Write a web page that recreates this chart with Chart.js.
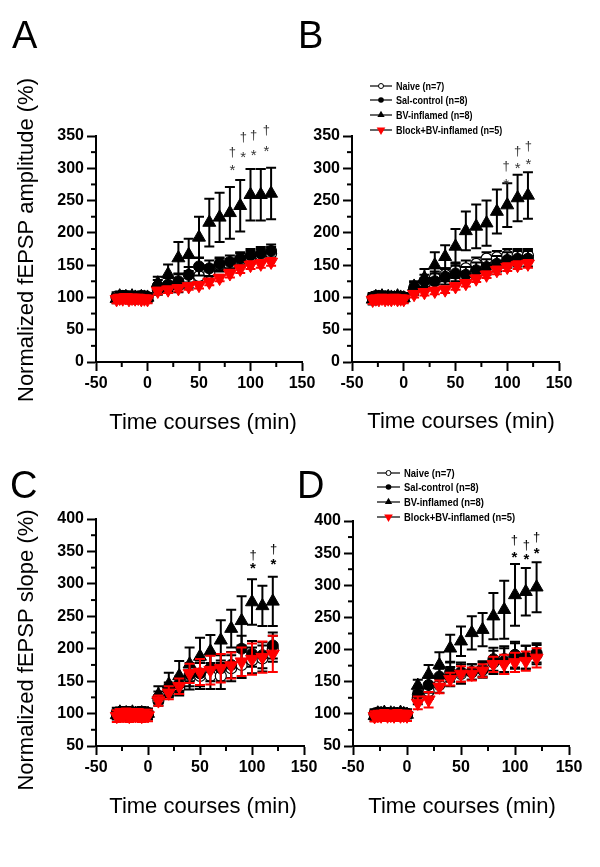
<!DOCTYPE html>
<html><head><meta charset="utf-8">
<script src="https://cdn.jsdelivr.net/npm/chart.js@4.4.0/dist/chart.umd.min.js"></script>
<style>
html,body{margin:0;padding:0;background:#fff;}
#wrap{position:relative;width:600px;height:867px;overflow:hidden;}
canvas{position:absolute;left:0;top:0;}
</style></head><body>
<div id="wrap">
<canvas id="cA" width="600" height="867"></canvas>
<canvas id="cB" width="600" height="867"></canvas>
<canvas id="cC" width="600" height="867"></canvas>
<canvas id="cD" width="600" height="867"></canvas>
</div>
<script>
// ---------- categories / labels ----------
const times = [-30,-27,-24,-21,-18,-15,-12,-9,-6,-3,0,10,20,30,40,50,60,70,80,90,100,110,120];
const seriesNames = ['Naive (n=7)','Sal-control (n=8)','BV-inflamed (n=8)','Block+BV-inflamed (n=5)'];
const xTickLabels = [-50,0,50,100,150];
const yTickLabelsAmp = [0,50,100,150,200,250,300,350];
const yTickLabelsSlope = [50,100,150,200,250,300,350,400];
const xTitle = 'Time courses (min)';
const yTitleAmp = 'Normalized fEPSP amplitude (%)';
const yTitleSlope = 'Normalized fEPSP slope (%)';

// ---------- Panel A: amplitude ----------
const naiveA    = [101,99,102,100,98,101,100,99,102,100,99, 112,115,118,125,133,138,150,150,158,162,165,168];
const naiveAErr = [7,6,7,6,7,6,7,6,7,6,7, 8,8,10,10,12,12,10,10,10,10,10,10];
const salA      = [99,101,100,102,99,100,98,101,100,99,101, 118,120,125,135,148,145,152,155,160,165,168,172];
const salAErr   = [6,7,6,7,6,7,6,7,6,7,6, 9,10,12,12,14,12,10,10,10,10,10,10];
const bvA       = [98,102,100,101,99,102,100,98,101,100,100, 122,136,161,166,193,216,224,231,242,259,259,261];
const bvAErr    = [7,7,6,7,7,6,7,7,6,7,6, 10,15,25,25,32,37,38,40,40,40,40,40];
const blockA    = [97,99,98,100,97,99,98,99,97,98,97, 110,112,114,117,119,124,130,137,144,150,152,155];
const blockAErr = [6,5,6,5,6,5,6,5,6,5,6, 5,5,5,5,5,5,5,6,6,6,6,6];
const sigXA     = [82.5,93,103,115.5];
const starYA    = [300,320,323,330];
const daggerYA  = [325,348,351,359];

// ---------- Panel B: amplitude ----------
const naiveB    = [100,102,99,101,100,98,101,100,99,101,100, 112,120,130,135,142,145,152,160,162,165,165,165];
const naiveBErr = [7,6,7,6,7,6,7,6,7,6,7, 8,10,10,10,12,12,10,10,10,10,10,10];
const salB      = [99,100,102,99,101,100,99,101,100,98,100, 115,125,125,132,137,135,142,147,152,158,160,160];
const salBErr   = [6,7,6,7,6,7,6,7,6,7,6, 8,10,12,12,12,12,12,12,12,12,12,12];
const bvB       = [97,101,100,102,99,101,100,99,102,100,99, 117,130,150,163,179,203,210,215,233,243,254,258];
const bvBErr    = [8,7,7,7,7,6,7,7,6,7,6, 8,14,20,18,27,30,34,35,34,34,36,36];
const blockB    = [96,98,97,99,97,98,97,99,97,98,97, 105,108,110,112,117,122,129,135,142,147,150,152];
const blockBErr = [6,5,6,5,6,5,6,5,6,5,6, 5,5,5,5,5,5,5,5,6,6,6,6];
const sigXB     = [99,110,120.5];
const starYB    = [279,304,310];
const daggerYB  = [302,326,333];

// ---------- Panel C: slope ----------
const naiveC    = [101,99,102,100,98,101,100,99,102,100,99, 120,135,140,155,158,158,158,170,175,182,185,200];
const naiveCErr = [8,7,8,7,8,7,8,7,8,7,8, 8,10,12,18,20,20,20,20,20,20,20,20];
const salC      = [99,101,100,102,99,100,98,101,100,99,101, 125,138,145,160,162,170,170,175,200,192,190,205];
const salCErr   = [7,8,7,8,7,8,7,8,7,8,7, 9,10,12,18,20,20,20,20,20,20,20,20];
const bvC       = [98,102,100,101,99,102,100,98,101,100,100, 129,145,158,176,188,196,213,231,243,272,266,273];
const bvCErr    = [7,7,6,7,7,6,7,7,6,7,6, 13,18,23,26,29,25,31,29,38,35,31,38];
const blockC    = [96,99,97,100,96,99,97,99,96,98,97, 120,132,142,162,164,167,170,174,180,184,187,192];
const blockCErr = [9,8,9,8,9,8,9,8,9,8,9, 8,10,12,15,20,22,22,20,22,24,24,28];
const sigXC     = [101,120.7];
const starYC    = [327,333];
const daggerYC  = [343,353];

// ---------- Panel D: slope ----------
const naiveD    = [100,102,99,101,100,98,101,100,99,101,100, 125,135,145,158,162,165,170,180,185,190,188,192];
const naiveDErr = [7,6,7,6,7,6,7,6,7,6,7, 10,12,12,15,15,12,12,18,20,20,18,15];
const salD      = [99,100,102,99,101,100,99,101,100,98,100, 130,145,158,165,165,165,168,185,182,192,188,195];
const salDErr   = [6,7,6,7,6,7,6,7,6,7,6, 10,12,12,15,15,12,12,18,20,20,18,15];
const bvD       = [97,101,100,102,99,101,100,99,102,100,99, 144,161,176,202,213,226,231,252,262,285,290,297];
const bvDErr    = [8,7,7,7,7,6,7,7,6,7,6, 9,15,20,21,23,26,26,36,45,48,37,39];
const blockD    = [96,98,97,99,97,98,97,99,97,98,97, 117,122,142,154,162,162,167,177,177,180,182,187];
const blockDErr = [8,7,8,7,8,7,8,7,8,7,8, 10,12,10,10,12,10,10,12,15,15,15,15];
const sigXD     = [99.4,110.5,120];
const starYD    = [347,344,353];
const daggerYD  = [370,362,375];

// ---------- styling / layout ----------
const FONT = "'Liberation Sans', Arial, sans-serif";
const RED = '#ff0000';

function pts(vals){ return times.map((t,i)=>({x:t,y:vals[i]})); }

function makeDatasets(n, ne, s, se, b, be, k, ke){
  return [
    {label:seriesNames[0], data:pts(n), errors:ne, errColor:'#000', order:3,
     pointStyle:'circle', pointRadius:5.5, pointBackgroundColor:'#fff', pointBorderColor:'#000', pointBorderWidth:1.2},
    {label:seriesNames[1], data:pts(s), errors:se, errColor:'#000', order:2,
     pointStyle:'circle', pointRadius:5.5, pointBackgroundColor:'#000', pointBorderColor:'#000', pointBorderWidth:1},
    {label:seriesNames[2], data:pts(b), errors:be, errColor:'#000', order:1,
     pointStyle:'triangle', pointRadius:7.5, pointBackgroundColor:'#000', pointBorderColor:'#000', pointBorderWidth:1},
    {label:seriesNames[3], data:pts(k), errors:ke, errColor:RED, order:0,
     pointStyle:'triangle', pointRotation:180, pointRadius:7.5, pointBackgroundColor:RED, pointBorderColor:RED, pointBorderWidth:1}
  ];
}

function drawMarker(ctx, kind, x, y){
  ctx.save();
  if(kind===0){ ctx.beginPath(); ctx.arc(x,y,2.5,0,Math.PI*2); ctx.fillStyle='#fff'; ctx.fill(); ctx.strokeStyle='#000'; ctx.lineWidth=1; ctx.stroke(); }
  else if(kind===1){ ctx.beginPath(); ctx.arc(x,y,2.8,0,Math.PI*2); ctx.fillStyle='#000'; ctx.fill(); }
  else if(kind===2){ const r=4.2; ctx.beginPath(); ctx.moveTo(x,y-r); ctx.lineTo(x+r*0.866,y+r/2); ctx.lineTo(x-r*0.866,y+r/2); ctx.closePath(); ctx.fillStyle='#000'; ctx.fill(); }
  else { const r=5; ctx.beginPath(); ctx.moveTo(x,y+r); ctx.lineTo(x+r*0.866,y-r/2); ctx.lineTo(x-r*0.866,y-r/2); ctx.closePath(); ctx.fillStyle=RED; ctx.fill(); }
  ctx.restore();
}

const decor = {
  id:'decor',
  beforeDatasetDraw(chart, args){
    const ds = chart.data.datasets[args.index];
    if(!ds.errors) return;
    const xs = chart.scales.x, ys = chart.scales.y, ctx = chart.ctx;
    ctx.save();
    ctx.strokeStyle = ds.errColor; ctx.lineWidth = 2;
    ds.data.forEach((p,i)=>{
      const e = ds.errors[i];
      const px = xs.getPixelForValue(p.x);
      const pt = ys.getPixelForValue(p.y+e), pb = ys.getPixelForValue(p.y-e);
      ctx.beginPath();
      ctx.moveTo(px,pt); ctx.lineTo(px,pb);
      ctx.moveTo(px-5,pt); ctx.lineTo(px+5,pt);
      ctx.moveTo(px-5,pb); ctx.lineTo(px+5,pb);
      ctx.stroke();
    });
    ctx.restore();
  },
  afterDraw(chart){
    const o = chart.options.plugins.decor;
    const ctx = chart.ctx, xs = chart.scales.x, ys = chart.scales.y, a = chart.chartArea;
    ctx.save();
    // minor ticks
    ctx.strokeStyle='#000'; ctx.lineWidth=2;
    xs.ticks.forEach(t=>{ if(!o.xLabels.includes(t.value)){ const px=xs.getPixelForValue(t.value); ctx.beginPath(); ctx.moveTo(px,a.bottom); ctx.lineTo(px,a.bottom+5); ctx.stroke(); }});
    ys.ticks.forEach(t=>{ if(!o.yLabels.includes(t.value)){ const py=ys.getPixelForValue(t.value); ctx.beginPath(); ctx.moveTo(a.left,py); ctx.lineTo(a.left-5,py); ctx.stroke(); }});
    // significance marks
    ctx.fillStyle = o.sigColor;
    ctx.textAlign='center'; ctx.textBaseline='alphabetic';
    function centered(txt, x, y){
      const m = ctx.measureText(txt);
      ctx.fillText(txt, x, y + (m.actualBoundingBoxAscent - m.actualBoundingBoxDescent)/2);
    }
    ctx.font = o.sigWeight+' 15px '+FONT;
    o.sigX.forEach((x,i)=>{ centered('*', xs.getPixelForValue(x), ys.getPixelForValue(o.starY[i])); });
    ctx.font = '13px '+FONT;
    o.sigX.forEach((x,i)=>{ centered('\u2020', xs.getPixelForValue(x), ys.getPixelForValue(o.daggerY[i])); });
    // titles
    ctx.fillStyle='#000';
    ctx.font = '22px '+FONT;
    ctx.textAlign='center'; ctx.textBaseline='alphabetic';
    ctx.fillText(xTitle, o.xTitlePos[0], o.xTitlePos[1]);
    if(o.yTitle){
      ctx.save(); ctx.translate(o.yTitlePos[0], o.yTitlePos[1]); ctx.rotate(-Math.PI/2);
      ctx.fillText(o.yTitle, 0, 0); ctx.restore();
    }
    // panel letter
    ctx.font = '38px '+FONT; ctx.textAlign='left';
    ctx.fillText(o.letter, o.letterPos[0], o.letterPos[1]);
    // legend
    if(o.legend){
      const L = o.legend;
      seriesNames.forEach((name,i)=>{
        const y = L.ys[i];
        ctx.strokeStyle='#000'; ctx.lineWidth=1.2;
        ctx.beginPath(); ctx.moveTo(L.x0,y); ctx.lineTo(L.x1,y); ctx.stroke();
        drawMarker(ctx, i, (L.x0+L.x1)/2, y);
        ctx.save();
        ctx.translate(L.tx, y + L.size*0.36);
        ctx.scale(L.sx,1);
        ctx.font = 'bold '+L.size+'px '+FONT; ctx.fillStyle='#000'; ctx.textAlign='left';
        ctx.fillText(name, 0, 0);
        ctx.restore();
      });
    }
    ctx.restore();
  }
};

function makeChart(id, datasets, area, yMin, yMax, xLabels, yLabels, deco){
  const AX = 40;
  return new Chart(document.getElementById(id), {
    type:'scatter',
    data:{datasets},
    plugins:[decor],
    options:{
      responsive:false, animation:false, events:[],
      layout:{padding:{left:area.l-AX, right:600-area.r, top:area.t, bottom:867-AX-area.b}},
      plugins:{legend:{display:false}, tooltip:{enabled:false}, decor:Object.assign({xLabels, yLabels}, deco)},
      elements:{line:{borderWidth:0}},
      scales:{
        x:{type:'linear', min:-50, max:150,
           afterFit:s=>{s.height=AX;},
           ticks:{stepSize:25, autoSkip:false, maxRotation:0, padding:3, color:'#000',
                  font:{family:FONT, size:16, weight:'bold'},
                  callback:v=> xLabels.includes(v) ? String(v) : ''},
           grid:{drawOnChartArea:false, drawTicks:true, tickLength:9, tickWidth:2,
                 tickColor:c=> (c.tick && xLabels.includes(c.tick.value)) ? '#000' : 'rgba(0,0,0,0)'},
           border:{display:true, color:'#000', width:2}},
        y:{type:'linear', min:yMin, max:yMax,
           afterFit:s=>{s.width=AX;},
           ticks:{stepSize:25, autoSkip:false, padding:3, color:'#000',
                  font:{family:FONT, size:16, weight:'bold'},
                  callback:v=> yLabels.includes(v) ? String(v) : ''},
           grid:{drawOnChartArea:false, drawTicks:true, tickLength:9, tickWidth:2,
                 tickColor:c=> (c.tick && yLabels.includes(c.tick.value)) ? '#000' : 'rgba(0,0,0,0)'},
           border:{display:true, color:'#000', width:2}}
      }
    }
  });
}

makeChart('cA', makeDatasets(naiveA,naiveAErr,salA,salAErr,bvA,bvAErr,blockA,blockAErr),
  {l:96,r:302,t:136,b:362}, 0, 350, xTickLabels, yTickLabelsAmp,
  {sigX:sigXA, starY:starYA, daggerY:daggerYA, sigColor:'#333', sigWeight:'normal',
   xTitlePos:[203,429], yTitle:yTitleAmp, yTitlePos:[33,240], letter:'A', letterPos:[12,48]});

makeChart('cB', makeDatasets(naiveB,naiveBErr,salB,salBErr,bvB,bvBErr,blockB,blockBErr),
  {l:352,r:559,t:136,b:362}, 0, 350, xTickLabels, yTickLabelsAmp,
  {sigX:sigXB, starY:starYB, daggerY:daggerYB, sigColor:'#333', sigWeight:'normal',
   xTitlePos:[461,428], yTitle:null, letter:'B', letterPos:[298,48],
   legend:{x0:370, x1:392, tx:396, ys:[86,100,115,130], size:11, sx:0.82}});

makeChart('cC', makeDatasets(naiveC,naiveCErr,salC,salCErr,bvC,bvCErr,blockC,blockCErr),
  {l:96,r:304,t:519,b:746}, 50, 400, xTickLabels, yTickLabelsSlope,
  {sigX:sigXC, starY:starYC, daggerY:daggerYC, sigColor:'#000', sigWeight:'bold',
   xTitlePos:[203,813], yTitle:yTitleSlope, yTitlePos:[33,650], letter:'C', letterPos:[10,498]});

makeChart('cD', makeDatasets(naiveD,naiveDErr,salD,salDErr,bvD,bvDErr,blockD,blockDErr),
  {l:353,r:569,t:521,b:746}, 50, 400, xTickLabels, yTickLabelsSlope,
  {sigX:sigXD, starY:starYD, daggerY:daggerYD, sigColor:'#000', sigWeight:'bold',
   xTitlePos:[462,813], yTitle:null, letter:'D', letterPos:[297,498],
   legend:{x0:377, x1:400, tx:404, ys:[473,487,502,517], size:11.5, sx:0.82}});
</script>
</body></html>
